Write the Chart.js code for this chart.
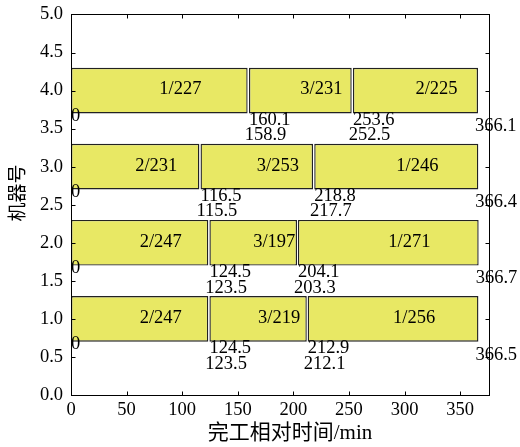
<!DOCTYPE html>
<html><head><meta charset="utf-8">
<script src="https://cdn.jsdelivr.net/npm/chart.js@4/dist/chart.umd.min.js"></script>
<style>html,body{margin:0;padding:0;background:#fff}</style>
</head><body>
<canvas id="c" width="520" height="447" style="display:block;width:520px;height:447px"></canvas>
<script>
// ---- data ----
const machines = [4, 3, 2, 1];
const jobLabels = [
  ["1/227", "3/231", "2/225"],
  ["2/231", "3/253", "1/246"],
  ["2/247", "3/197", "1/271"],
  ["2/247", "3/219", "1/256"]
];
const startTimes = [
  [0, 160.1, 253.6],
  [0, 116.5, 218.8],
  [0, 124.5, 204.1],
  [0, 124.5, 212.9]
];
const endTimes = [
  [158.9, 252.5, 366.1],
  [115.5, 217.7, 366.4],
  [123.5, 203.3, 366.7],
  [123.5, 212.1, 366.5]
];
const xTicks = [0, 50, 100, 150, 200, 250, 300, 350];
const yTicks = [0, 0.5, 1, 1.5, 2, 2.5, 3, 3.5, 4, 4.5, 5];
const xTitle = '完工相对时间/min';
const yTitle = '机器号';

// ---- style ----
const FONT = "'Liberation Serif', 'Times New Roman', 'Noto Sans CJK SC', serif";
const FS = 18.5;
const barFill = '#e8e864';
const barEdge = '#222222';

const bgPlugin = {
  id: 'bg',
  beforeDraw(chart) {
    const c = chart.ctx;
    c.save(); c.fillStyle = '#fff'; c.fillRect(0, 0, chart.width, chart.height); c.restore();
  }
};

const framePlugin = {
  id: 'frame',
  afterDatasetsDraw(chart) {
    const { ctx, chartArea: a, scales: { x, y } } = chart;
    ctx.save();
    ctx.strokeStyle = '#000';
    ctx.lineWidth = 1;
    const L = Math.round(a.left) + 0.5, R = Math.round(a.right) + 0.5;
    const T = Math.round(a.top) + 0.5, B = Math.round(a.bottom) + 0.5;
    ctx.strokeRect(L, T, R - L, B - T);
    const tl = 4;
    ctx.beginPath();
    x.ticks.forEach(t => {
      const px = Math.round(x.getPixelForValue(t.value)) + 0.5;
      ctx.moveTo(px, B); ctx.lineTo(px, B - tl);
      ctx.moveTo(px, T); ctx.lineTo(px, T + tl);
    });
    y.ticks.forEach(t => {
      const py = Math.round(y.getPixelForValue(t.value)) + 0.5;
      ctx.moveTo(L, py); ctx.lineTo(L + tl, py);
      ctx.moveTo(R, py); ctx.lineTo(R - tl, py);
    });
    ctx.stroke();
    ctx.restore();
  }
};

const labelPlugin = {
  id: 'labels',
  afterDatasetsDraw(chart) {
    const { ctx, scales: { x, y } } = chart;
    ctx.save();
    ctx.fillStyle = '#000';
    ctx.font = FS + 'px ' + FONT;
    ctx.textBaseline = 'middle';
    ctx.textAlign = 'left';
    machines.forEach((m, i) => {
      for (let k = 0; k < 3; k++) {
        const mid = (startTimes[i][k] + endTimes[i][k]) / 2;
        ctx.fillText(jobLabels[i][k], x.getPixelForValue(mid), y.getPixelForValue(m) - 1);
      }
      ctx.fillText(String(startTimes[i][0]), x.getPixelForValue(startTimes[i][0]), y.getPixelForValue(m - 0.33));
      for (let k = 1; k < 3; k++) {
        ctx.fillText(startTimes[i][k].toFixed(1), x.getPixelForValue(startTimes[i][k]), y.getPixelForValue(m - 0.39));
      }
      for (let k = 0; k < 2; k++) {
        ctx.fillText(endTimes[i][k].toFixed(1), x.getPixelForValue(endTimes[i][k]) - 3, y.getPixelForValue(m - 0.59));
      }
      ctx.fillText(endTimes[i][2].toFixed(1), x.getPixelForValue(endTimes[i][2]) - 3, y.getPixelForValue(m - 0.47));
    });
    // axis titles
    ctx.textAlign = 'center';
    ctx.font = '21px ' + FONT;
    ctx.fillText(xTitle, 290, 433);
    ctx.font = '19px ' + FONT;
    ctx.translate(19, 193);
    ctx.rotate(-Math.PI / 2);
    ctx.fillText(yTitle, 0, 0);
    ctx.restore();
  }
};

const datasets = [0, 1, 2].map(k => ({
  data: machines.map((m, i) => ({ x: [startTimes[i][k], endTimes[i][k]], y: m })),
  backgroundColor: barFill,
  borderColor: barEdge,
  borderWidth: 1.4,
  borderSkipped: false,
  grouped: false,
  categoryPercentage: 1,
  barPercentage: 1.2
}));

new Chart(document.getElementById('c'), {
  type: 'bar',
  data: { datasets },
  options: {
    indexAxis: 'y',
    responsive: false,
    animation: false,
    devicePixelRatio: 1,
    layout: { padding: { left: 0, right: 31, top: 0, bottom: 0 } },
    plugins: { legend: { display: false }, tooltip: { enabled: false } },
    scales: {
      x: {
        type: 'linear', min: 0, max: 376,
        grid: { display: false, drawTicks: false },
        border: { display: false },
        ticks: { color: '#000', font: { family: FONT, size: FS, lineHeight: 1 }, padding: 6, maxRotation: 0 },
        afterBuildTicks: s => { s.ticks = xTicks.map(v => ({ value: v })); },
        afterFit: s => { s.height = 52; }
      },
      y: {
        type: 'linear', min: 0, max: 5, offset: false,
        grid: { display: false, drawTicks: false, offset: false },
        border: { display: false },
        ticks: { color: '#000', font: { family: FONT, size: FS, lineHeight: 0.7 }, padding: 8, callback: v => Number(v).toFixed(1) },
        afterBuildTicks: s => { s.ticks = yTicks.map(v => ({ value: v })); },
        afterFit: s => { s.width = 71; }
      }
    }
  },
  plugins: [bgPlugin, framePlugin, labelPlugin]
});
</script>
</body></html>
